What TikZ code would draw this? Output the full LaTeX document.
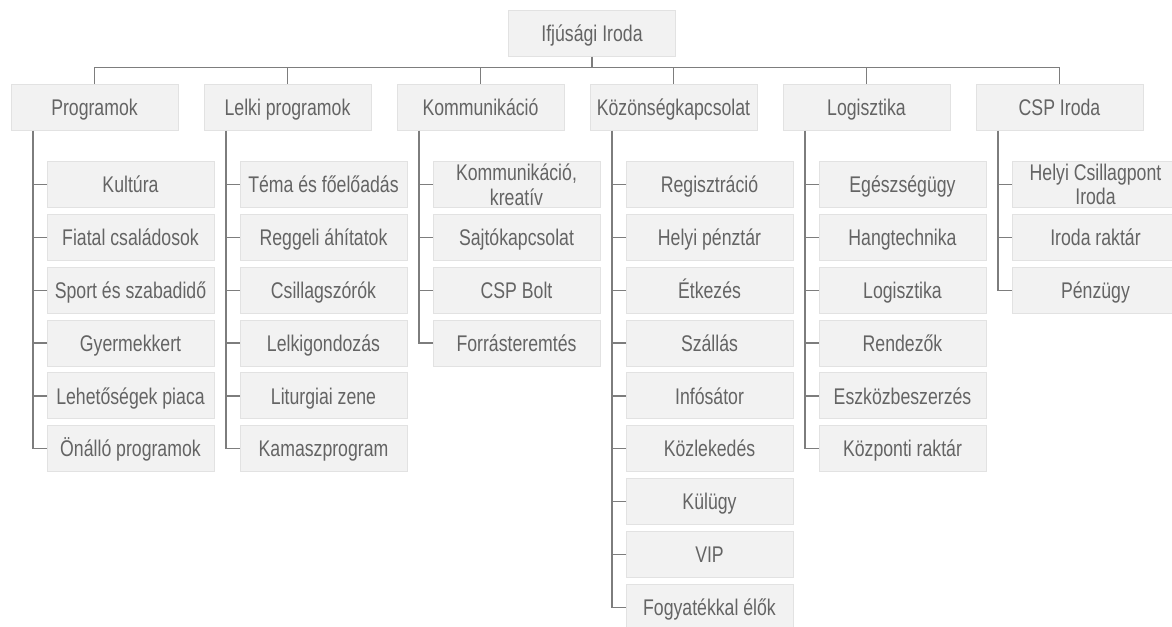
\documentclass[tikz,border=0pt]{standalone}
\usepackage{fontspec}
\setmainfont{Liberation Sans}[FakeStretch=0.78]
\usepackage{tikz}
\usetikzlibrary{positioning}
\usetikzlibrary{calc}
\definecolor{boxfill}{RGB}{242,242,242}
\definecolor{boxline}{RGB}{226,226,226}
\definecolor{textgray}{RGB}{100,100,100}
\definecolor{linegray}{RGB}{125,125,125}
\tikzstyle{unit} = [rectangle, draw=boxline, line width=0.75pt, fill=boxfill, text=textgray, minimum width=125.25pt, minimum height=34.5pt, inner sep=0pt, align=center, text height=15.2pt, text depth=3pt]
\tikzstyle{twoline} = [text height={}, text depth={}]
\tikzstyle{conn} = [draw=linegray, line width=1pt]

\begin{document}
\begin{tikzpicture}[node distance = 4.4pt, font=\fontsize{17}{18.6}\selectfont]

	\useasboundingbox (0,0) rectangle (879pt,-469.5pt);

	\node[unit](Iroda) at (444pt,-24.75pt){Ifjúsági Iroda};

	% main departments
	\node[unit](Programok) at (70.875pt,-80.25pt){Programok};
	\node[unit, right=18.75pt of Programok](Lelki){Lelki programok};
	\node[unit, right=18.75pt of Lelki](Kommunikacio){Kommunikáció};
	\node[unit, right=18.75pt of Kommunikacio](Kozonseg){Közönségkapcsolat};
	\node[unit, right=18.75pt of Kozonseg](Logisztika){Logisztika};
	\node[unit, right=18.75pt of Logisztika](CSP){CSP Iroda};

	% Programok
	\node[unit] at([xshift=27pt, yshift=-58.1pt]Programok.center)(Prog-1){Kultúra};
	\node[unit, below=of Prog-1](Prog-2){Fiatal családosok};
	\node[unit, below=of Prog-2](Prog-3){Sport és szabadidő};
	\node[unit, below=of Prog-3](Prog-4){Gyermekkert};
	\node[unit, below=of Prog-4](Prog-5){Lehetőségek piaca};
	\node[unit, below=of Prog-5](Prog-6){Önálló programok};

	% Lelki programok
	\node[unit] at([xshift=27pt, yshift=-58.1pt]Lelki.center)(Lelki-1){Téma és főelőadás};
	\node[unit, below=of Lelki-1](Lelki-2){Reggeli áhítatok};
	\node[unit, below=of Lelki-2](Lelki-3){Csillagszórók};
	\node[unit, below=of Lelki-3](Lelki-4){Lelkigondozás};
	\node[unit, below=of Lelki-4](Lelki-5){Liturgiai zene};
	\node[unit, below=of Lelki-5](Lelki-6){Kamaszprogram};

	% Kommunikacio
	\node[unit, twoline] at([xshift=27pt, yshift=-58.1pt]Kommunikacio.center)(Komm-1){Kommunikáció,\\kreatív};
	\node[unit, below=of Komm-1](Komm-2){Sajtókapcsolat};
	\node[unit, below=of Komm-2](Komm-3){CSP Bolt};
	\node[unit, below=of Komm-3](Komm-4){Forrásteremtés};

	% Kozonsegkapcsolat
	\node[unit] at([xshift=27pt, yshift=-58.1pt]Kozonseg.center)(Koz-1){Regisztráció};
	\node[unit, below=of Koz-1](Koz-2){Helyi pénztár};
	\node[unit, below=of Koz-2](Koz-3){Étkezés};
	\node[unit, below=of Koz-3](Koz-4){Szállás};
	\node[unit, below=of Koz-4](Koz-5){Infósátor};
	\node[unit, below=of Koz-5](Koz-6){Közlekedés};
	\node[unit, below=of Koz-6](Koz-7){Külügy};
	\node[unit, below=of Koz-7](Koz-8){VIP};
	\node[unit, below=of Koz-8](Koz-9){Fogyatékkal élők};

	% Logisztika
	\node[unit] at([xshift=27pt, yshift=-58.1pt]Logisztika.center)(Log-1){Egészségügy};
	\node[unit, below=of Log-1](Log-2){Hangtechnika};
	\node[unit, below=of Log-2](Log-3){Logisztika};
	\node[unit, below=of Log-3](Log-4){Rendezők};
	\node[unit, below=of Log-4](Log-5){Eszközbeszerzés};
	\node[unit, below=of Log-5](Log-6){Központi raktár};

	% CSP Iroda
	\node[unit, twoline] at([xshift=27pt, yshift=-58.1pt]CSP.center)(CSP-1){Helyi Csillagpont\\Iroda};
	\node[unit, below=of CSP-1](CSP-2){Iroda raktár};
	\node[unit, below=of CSP-2](CSP-3){Pénzügy};

	% top bus
	\coordinate (bus) at ([yshift=-8.25pt]Iroda.south);
	\draw[conn] (Iroda.south) -- (bus);
	\draw[conn] (Programok.north) |- (bus) -| (CSP.north);
	\draw[conn] (Lelki.north) -- (Lelki.north |- bus);
	\draw[conn] (Kommunikacio.north) -- (Kommunikacio.north |- bus);
	\draw[conn] (Kozonseg.north) -- (Kozonseg.north |- bus);
	\draw[conn] (Logisztika.north) -- (Logisztika.north |- bus);

	% trunks
	\coordinate (Prog-trunk) at ([xshift=-46.1pt]Programok.south);
	\coordinate (Lelki-trunk) at ([xshift=-46.1pt]Lelki.south);
	\coordinate (Komm-trunk) at ([xshift=-46.1pt]Kommunikacio.south);
	\coordinate (Koz-trunk) at ([xshift=-46.1pt]Kozonseg.south);
	\coordinate (Log-trunk) at ([xshift=-46.1pt]Logisztika.south);
	\coordinate (CSP-trunk) at ([xshift=-46.1pt]CSP.south);

	\draw[conn] (Prog-trunk) |- (Prog-6.west);
	\foreach \i in {1,...,5} \draw[conn] (Prog-trunk |- Prog-\i.west) -- (Prog-\i.west);
	\draw[conn] (Lelki-trunk) |- (Lelki-6.west);
	\foreach \i in {1,...,5} \draw[conn] (Lelki-trunk |- Lelki-\i.west) -- (Lelki-\i.west);
	\draw[conn] (Komm-trunk) |- (Komm-4.west);
	\foreach \i in {1,...,3} \draw[conn] (Komm-trunk |- Komm-\i.west) -- (Komm-\i.west);
	\draw[conn] (Koz-trunk) |- (Koz-9.west);
	\foreach \i in {1,...,8} \draw[conn] (Koz-trunk |- Koz-\i.west) -- (Koz-\i.west);
	\draw[conn] (Log-trunk) |- (Log-6.west);
	\foreach \i in {1,...,5} \draw[conn] (Log-trunk |- Log-\i.west) -- (Log-\i.west);
	\draw[conn] (CSP-trunk) |- (CSP-3.west);
	\foreach \i in {1,...,2} \draw[conn] (CSP-trunk |- CSP-\i.west) -- (CSP-\i.west);

\end{tikzpicture}
\end{document}
